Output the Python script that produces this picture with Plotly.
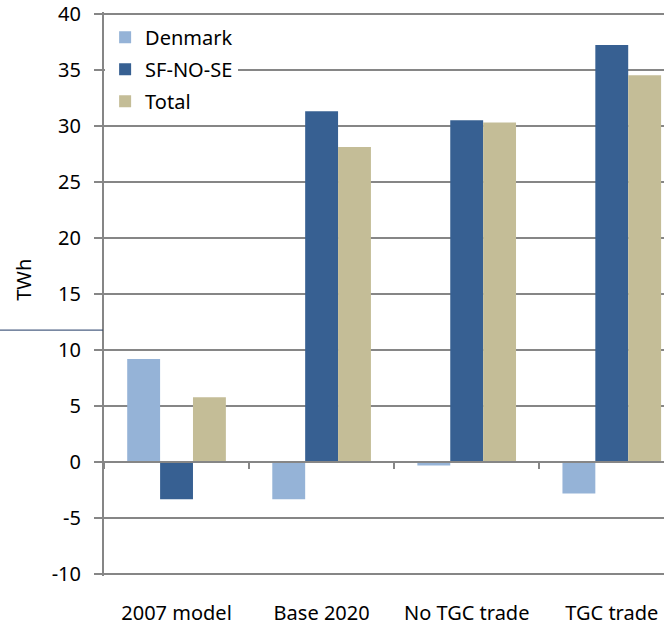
import plotly.graph_objects as go

categories = ["2007 model", "Base 2020", "No TGC trade", "TGC trade"]
denmark = [9.2, -3.3, -0.3, -2.8]
sf_no_se = [-3.3, 31.3, 30.5, 37.2]
total = [5.8, 28.1, 30.3, 34.5]
y_ticks = list(range(-10, 45, 5))
y_tick_text = [str(v) for v in y_ticks]  # plain hyphen, not the unicode minus

GRID = "#868686"
FONT = "Noto Sans"

fig = go.Figure()

fig.add_trace(go.Bar(x=categories, y=denmark, name="Denmark",
                     marker=dict(color="#95B3D7", line=dict(width=0)),
                     legendgroup="a"))
fig.add_trace(go.Bar(x=categories, y=sf_no_se, name="SF-NO-SE",
                     marker=dict(color="#376092", line=dict(width=0)),
                     legendgroup="b"))
fig.add_trace(go.Bar(x=categories, y=total, name="Total",
                     marker=dict(color="#C4BD97", line=dict(width=0)),
                     legendgroup="c"))

# helper trace so the zero-line axis gets its categories
fig.add_trace(go.Scatter(x=categories, y=total, mode="none", xaxis="x2",
                         showlegend=False, hoverinfo="skip"))

# stray line left of the plot, as in the original
fig.add_shape(type="line", xref="paper", yref="paper",
              x0=-0.186, x1=-0.002, y0=0.436, y1=0.436,
              line=dict(color="#1F3864", width=1))

# y title placed by hand (sits a bit above the axis middle)
fig.add_annotation(text="TWh", textangle=-90, xref="paper", yref="paper",
                   x=-0.143, y=0.525, xanchor="center", yanchor="middle",
                   showarrow=False, font=dict(size=20))

xrange = [-0.5, 3.36]
# small pad so the 40 and -10 grid lines are not dropped at the edges
yrange = [-10.15, 40.15]

fig.update_layout(
    width=664, height=625,
    margin=dict(l=104, r=0, t=12, b=49, autoexpand=False),
    plot_bgcolor="white", paper_bgcolor="white",
    font=dict(family=FONT, size=20, color="#000000"),
    barmode="group", bargap=0.32, bargroupgap=0,
    showlegend=True,
    legend=dict(x=0.002, y=0.99, xanchor="left", yanchor="top",
                bgcolor="white", font=dict(size=20), tracegroupgap=3,
                itemwidth=30),
    xaxis=dict(type="category", range=xrange, showline=False, ticks="",
               showgrid=False, zeroline=False, ticklabelstandoff=23,
               tickfont=dict(size=20), automargin=False),
    xaxis2=dict(type="category", overlaying="x", anchor="free",
                position=(0 - yrange[0]) / (yrange[1] - yrange[0]),
                range=xrange, categoryarray=categories, categoryorder="array",
                showline=True, linecolor=GRID, linewidth=2,
                ticks="outside", tickson="boundaries", ticklen=6, tickwidth=2,
                tickcolor=GRID, showticklabels=False, showgrid=False,
                zeroline=False, automargin=False),
    yaxis=dict(range=yrange, tickvals=y_ticks, ticktext=y_tick_text,
               showgrid=True, gridcolor=GRID, ticklabeloverflow="allow",
               automargin=False,
               gridwidth=2, zeroline=False, showline=True, linecolor=GRID,
               linewidth=2, ticks="outside", ticklen=8, tickwidth=2,
               tickcolor=GRID, ticklabelstandoff=9),
)

# drop the browser's default 8px body margin so the figure sits at 0,0
fig.write_html("out.html",
               config={"displayModeBar": False},
               post_script="document.body.style.margin='0';"
                           "document.body.style.overflow='hidden';")
